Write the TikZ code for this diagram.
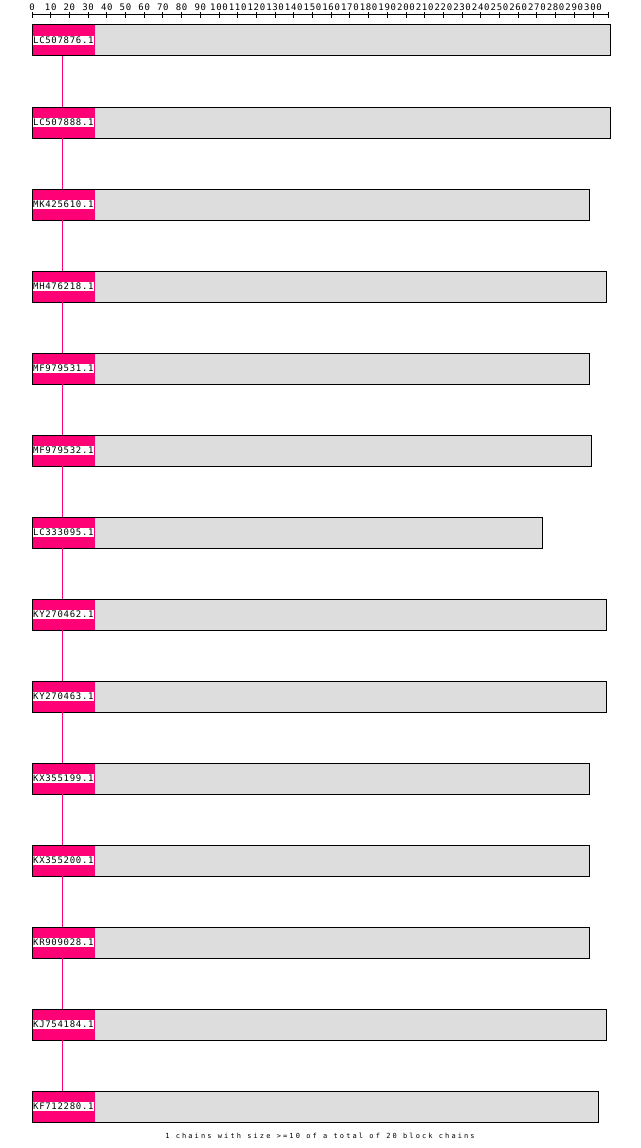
\documentclass[tikz,border=0pt]{standalone}
\usepackage{fontspec}
\newfontfamily\rulerfont[LetterSpace=7.6]{DejaVu Sans Mono}
\newfontfamily\notefont[LetterSpace=30]{DejaVu Sans Mono}
\definecolor{chainpink}{RGB}{255,0,119}
\definecolor{bargray}{RGB}{221,221,221}
\tikzset{
  bar/.style={rectangle, draw=black, line width=1pt, fill=bargray, inner sep=0pt, outer sep=0pt, minimum height=31pt, anchor=north west},
  seqlabel/.style={fill=white, inner xsep=0.5pt, inner ysep=0pt, minimum height=9pt, anchor=west, font=\rulerfont\fontsize{9}{9}\selectfont, text=black},
  ticklabel/.style={inner sep=0pt, font=\rulerfont\fontsize{9}{9}\selectfont},
  chainline/.style={draw=chainpink, line width=1pt},
  rulerline/.style={draw=black, line width=1pt}
}
\begin{document}
\begin{tikzpicture}[x=1pt, y=-1pt]
\useasboundingbox (0,0) rectangle (640,1148);
\fill[white] (0,0) rectangle (640,1148);
% ruler
\coordinate (r0) at (32,15);
\coordinate (rend) at (608,15);
\draw[rulerline] (r0) -- (rend);
\foreach \i in {0,...,30}{
  \pgfmathsetmacro{\xx}{32+18.7*\i}
  \draw[rulerline] (\xx,12) -- (\xx,18);
  \pgfmathtruncatemacro{\v}{10*\i}
  \node[ticklabel] (t\i) at (\xx,7) {\v};
}
\draw[rulerline] (rend) ++(0,-3) -- ++(0,6);
% vertical chain line position
\coordinate (lx) at (62,0);
% bars
\foreach \nm/\r [count=\i] in {LC507876.1/610, LC507888.1/610, MK425610.1/589, MH476218.1/606, MF979531.1/589, MF979532.1/591, LC333095.1/542, KY270462.1/606, KY270463.1/606, KX355199.1/589, KX355200.1/589, KR909028.1/589, KJ754184.1/606, KF712280.1/598}{
  \pgfmathsetmacro{\yy}{25+82*(\i-1)}
  \pgfmathsetmacro{\ww}{\r-32}
  \node[bar, minimum width=\ww pt] (b\i) at (32,\yy) {};
  \fill[chainpink] (b\i.north west) rectangle ([xshift=63pt]b\i.south west);
  \draw[line width=1pt] (b\i.north west) rectangle (b\i.south east);
  \node[seqlabel] (l\i) at ([xshift=0.5pt]b\i.west) {\nm};
}
% chain connectors
\foreach \i [evaluate=\i as \j using int(\i+1)] in {1,...,13}{
  \draw[chainline] (b\i.south -| lx) -- (b\j.north -| lx);
}
\node[inner sep=0pt, font=\notefont\fontsize{7}{7}\selectfont] (note) at (320,1136) {1 chains with size >=10 of a total of 20 block chains};
\end{tikzpicture}
\end{document}
